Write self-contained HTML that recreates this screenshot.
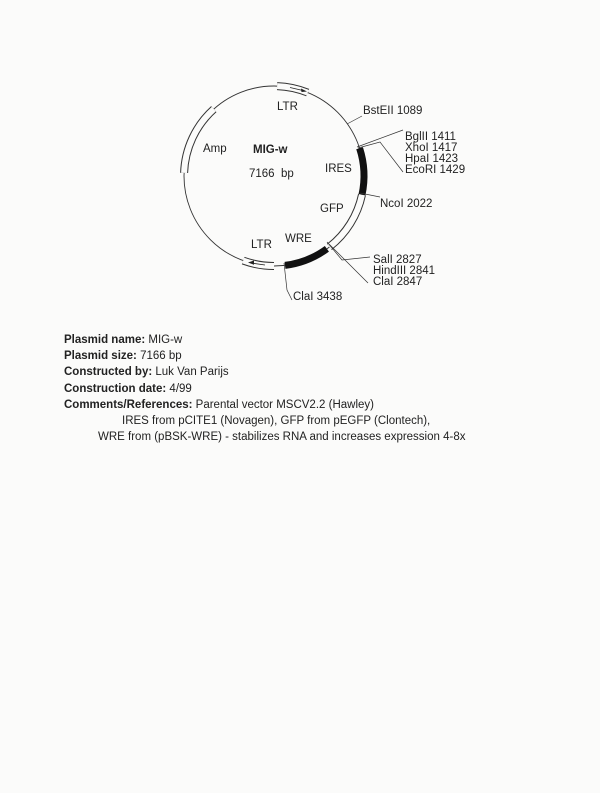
<!DOCTYPE html>
<html><head><meta charset="utf-8"><style>
body{margin:0;background:#fbfbfa;}
svg{display:block}
text{font-family:"Liberation Sans",Arial,sans-serif;font-size:11.5px;fill:#222}
.b{font-weight:bold}
</style></head><body>
<svg width="600" height="793" viewBox="0 0 600 793">
<rect width="600" height="793" fill="#fbfbfa"/>
<circle cx="274" cy="176" r="90" fill="none" stroke="#333" stroke-width="0.9"/>
<g fill="none">
<!-- top LTR -->
<path d="M277.1 86.1 A90 90 0 0 1 307.7 92.6" stroke="#333" stroke-width="8"/>
<path d="M277.1 86.1 A90 90 0 0 1 307.7 92.6" stroke="#fbfbfa" stroke-width="6"/>
<!-- GFP -->
<path d="M362.0 194.7 A90 90 0 0 1 329.4 246.9" stroke="#333" stroke-width="8"/>
<path d="M362.0 194.7 A90 90 0 0 1 329.4 246.9" stroke="#fbfbfa" stroke-width="6"/>
<!-- lower LTR -->
<path d="M274 266 A90 90 0 0 1 243.2 260.6" stroke="#333" stroke-width="8"/>
<path d="M274 266 A90 90 0 0 1 243.2 260.6" stroke="#fbfbfa" stroke-width="6"/>
<!-- Amp -->
<path d="M184.1 172.9 A90 90 0 0 1 213.8 109.1" stroke="#333" stroke-width="8"/>
<path d="M184.1 172.9 A90 90 0 0 1 213.8 109.1" stroke="#fbfbfa" stroke-width="6"/>
<!-- IRES -->
<path d="M359.6 148.2 A90 90 0 0 1 362.0 194.7" stroke="#111" stroke-width="7"/>
<!-- WRE -->
<path d="M326.9 248.8 A90 90 0 0 1 285.0 265.4" stroke="#111" stroke-width="7"/>
</g>
<!-- arrows inside LTRs -->
<line x1="290" y1="87.5" x2="305" y2="91" stroke="#222" stroke-width="0.8"/>
<polygon points="307,91.5 301,88.5 301.5,92" fill="#222"/>
<line x1="265" y1="265" x2="251" y2="263" stroke="#222" stroke-width="0.8"/>
<polygon points="248,262.5 254,260.5 254,264.8" fill="#222"/>
<!-- connectors -->
<g stroke="#333" stroke-width="0.7" fill="none">
<line x1="347" y1="124" x2="362" y2="116"/>
<line x1="357" y1="147" x2="403" y2="130"/>
<polyline points="358,148 380,142 403,172"/>
<line x1="360" y1="193" x2="380" y2="197"/>
<polyline points="327,242 342,260 370,257"/>
<line x1="329" y1="244" x2="368" y2="283"/>
<polyline points="284,263 287,290 292,300"/>
</g>
<text x="277" y="110">LTR</text>
<text x="363" y="114">BstEII 1089</text>
<text x="405" y="140">BglII 1411</text>
<text x="405" y="151">XhoI 1417</text>
<text x="405" y="162">HpaI 1423</text>
<text x="405" y="173">EcoRI 1429</text>
<text x="325" y="172">IRES</text>
<text x="380" y="207">NcoI 2022</text>
<text x="320" y="212">GFP</text>
<text x="285" y="242">WRE</text>
<text x="251" y="248">LTR</text>
<text x="373" y="263">SalI 2827</text>
<text x="373" y="274">HindIII 2841</text>
<text x="373" y="285">ClaI 2847</text>
<text x="293" y="300">ClaI 3438</text>
<text x="203" y="152">Amp</text>
<text x="253" y="153" class="b">MIG-w</text>
<text x="249" y="177">7166&#160;&#160;bp</text>
<g font-size="12">
<text x="64" y="343"><tspan class="b">Plasmid name:</tspan> MIG-w</text>
<text x="64" y="359"><tspan class="b">Plasmid size:</tspan> 7166 bp</text>
<text x="64" y="375"><tspan class="b">Constructed by:</tspan> Luk Van Parijs</text>
<text x="64" y="392"><tspan class="b">Construction date:</tspan> 4/99</text>
<text x="64" y="408"><tspan class="b">Comments/References:</tspan> Parental vector MSCV2.2 (Hawley)</text>
<text x="122" y="424">IRES from pCITE1 (Novagen), GFP from pEGFP (Clontech),</text>
<text x="98" y="440">WRE from (pBSK-WRE) - stabilizes RNA and increases expression 4-8x</text>
</g>
</svg>
</body></html>
